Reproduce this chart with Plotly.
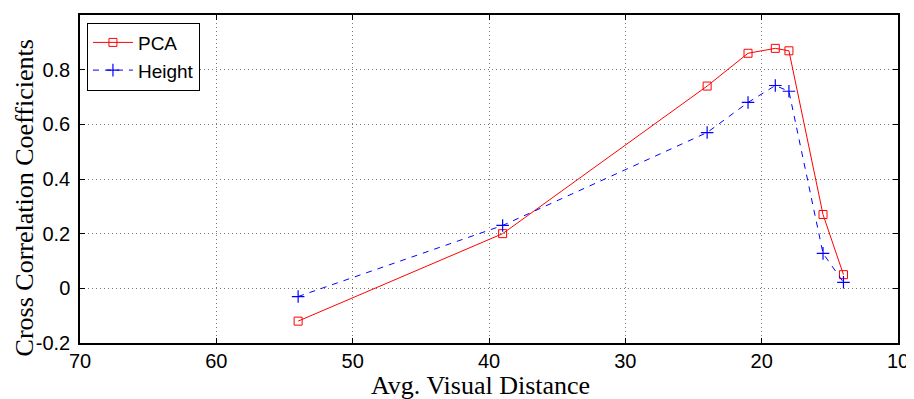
import plotly.graph_objects as go

distance = [54, 39, 24, 21, 19, 18, 15.5, 14]
pca = [-0.12, 0.20, 0.74, 0.86, 0.878, 0.869, 0.27, 0.05]
height = [-0.03, 0.23, 0.57, 0.68, 0.742, 0.721, 0.128, 0.022]
x_ticks = [70, 60, 50, 40, 30, 20, 10]
y_ticks = [-0.2, 0, 0.2, 0.4, 0.6, 0.8]
y_tick_text = ["-0.2", "0", "0.2", "0.4", "0.6", "0.8"]

fig = go.Figure()
fig.add_trace(go.Scatter(
    x=distance, y=pca, name="PCA", mode="lines+markers",
    line=dict(color="#ff0000", width=1),
    marker=dict(symbol="square-open", size=8, color="#ff0000", line=dict(width=1)),
))
fig.add_trace(go.Scatter(
    x=distance, y=height, name="Height", mode="lines+markers",
    line=dict(color="#0000ff", width=1, dash="6px,6px"),
    marker=dict(symbol="cross-thin-open", size=9, color="#0000ff", line=dict(width=1.2, color="#0000ff")),
))

axis_common = dict(
    showline=True, linecolor="black", linewidth=1.5, mirror="allticks",
    ticks="inside", ticklen=5, tickcolor="black", tickwidth=1,
    showgrid=True, gridcolor="#777777", griddash="1px,3px", gridwidth=1,
    zeroline=False,
    tickfont=dict(family="Liberation Sans, Arial, sans-serif", size=20, color="black"),
)

serif = dict(family="Liberation Serif, Times New Roman, serif", size=26, color="black")

# page body has an 8px margin, so the figure is sized to fill the rest of the window
fig.update_layout(
    width=906, height=391,
    margin=dict(l=72, r=13, t=5, b=56),
    plot_bgcolor="white", paper_bgcolor="white",
    showlegend=True,
    legend=dict(
        x=0.0085, y=0.977, xanchor="left", yanchor="top",
        bordercolor="black", borderwidth=1, bgcolor="white",
        font=dict(family="Liberation Sans, Arial, sans-serif", size=19, color="black"),
        tracegroupgap=0, itemwidth=40,
    ),
    xaxis=dict(range=[70, 10], tickvals=x_ticks, ticklabelstandoff=-1, **axis_common),
    yaxis=dict(range=[-0.2, 1.0], tickvals=y_ticks, ticktext=y_tick_text,
               ticklabelstandoff=4, **axis_common),
    annotations=[
        dict(text="Avg. Visual Distance", xref="paper", yref="paper",
             x=0.49, y=-0.13, xanchor="center", yanchor="middle",
             showarrow=False, font=serif),
        dict(text="Cross Correlation Coefficients", xref="paper", yref="paper",
             x=-0.068, y=0.442, xanchor="center", yanchor="middle",
             textangle=-90, showarrow=False, font=serif),
    ],
)

fig.write_html("out.html")
